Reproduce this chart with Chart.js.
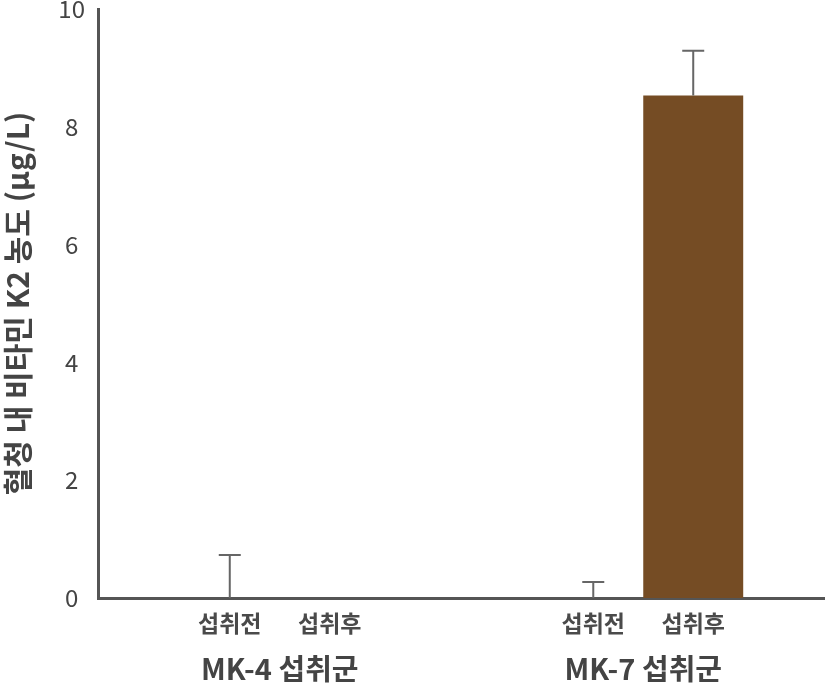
<!DOCTYPE html>
<html>
<head>
<meta charset="utf-8">
<script src="https://cdn.jsdelivr.net/npm/chart.js@4"></script>
<style>
  html, body { margin: 0; padding: 0; background: #fff; }
  #wrap { width: 825px; height: 690px; }
</style>
</head>
<body>
<div id="wrap"><canvas id="chart"></canvas></div>
<script>
// 데이터
const groups = ['MK-4 섭취군', 'MK-7 섭취군'];
const subLabels = ['섭취전', '섭취후'];
const beforeValues = [0, 0];
const afterValues = [0, 8.53];
const beforeErr = [0.73, 0.27];
const afterErr = [null, 0.76];
const yTicks = [0, 2, 4, 6, 8, 10];

const FONT = "'Noto Sans CJK KR', 'Noto Sans', sans-serif";

// 오차 막대 + 하위 라벨
const extrasPlugin = {
    id: 'extras',
    afterDatasetsDraw(chart) {
        const ctx = chart.ctx;
        const y = chart.scales.y;
        const errs = [beforeErr, afterErr];
        ctx.save();
        errs.forEach((errArr, di) => {
            const meta = chart.getDatasetMeta(di);
            meta.data.forEach((bar, i) => {
                const e = errArr[i];
                if (e == null) return;
                const v = chart.data.datasets[di].data[i];
                const yTop = y.getPixelForValue(v + e);
                const yBase = y.getPixelForValue(v);
                ctx.strokeStyle = '#666';
                ctx.lineWidth = 2;
                ctx.beginPath();
                ctx.moveTo(bar.x, yBase);
                ctx.lineTo(bar.x, yTop);
                ctx.moveTo(bar.x - 11, yTop);
                ctx.lineTo(bar.x + 11, yTop);
                ctx.stroke();
            });
        });
        // 섭취전 / 섭취후
        ctx.fillStyle = '#4a4a4a';
        ctx.font = 'bold 23px ' + FONT;
        ctx.textAlign = 'center';
        ctx.textBaseline = 'middle';
        [0, 1].forEach(di => {
            chart.getDatasetMeta(di).data.forEach(bar => {
                ctx.fillText(subLabels[di], bar.x, chart.chartArea.bottom + 25);
            });
        });
        ctx.restore();
    }
};

new Chart(document.getElementById('chart').getContext('2d'), {
    type: 'bar',
    data: {
        labels: groups,
        datasets: [
            {
                label: subLabels[0],
                data: beforeValues,
                backgroundColor: '#b0a090',
                categoryPercentage: 0.55,
                barPercentage: 1.0
            },
            {
                label: subLabels[1],
                data: afterValues,
                backgroundColor: '#754c24',
                categoryPercentage: 0.55,
                barPercentage: 1.0
            }
        ]
    },
    options: {
        responsive: true,
        maintainAspectRatio: false,
        animation: false,
        layout: { padding: { top: 9, right: 0, left: 0, bottom: 0 } },
        plugins: {
            legend: { display: false },
            tooltip: { enabled: false }
        },
        scales: {
            x: {
                grid: { display: false, drawTicks: false },
                border: { display: true, color: '#555', width: 3 },
                ticks: {
                    color: '#444',
                    font: { family: FONT, size: 29, weight: 'bold' },
                    padding: 54
                },
                afterFit(scale) { scale.height = 92; scale.paddingLeft = 0; scale.paddingRight = 0; }
            },
            y: {
                min: 0,
                max: 10,
                afterBuildTicks(scale) {
                    scale.ticks = yTicks.map(v => ({ value: v }));
                },
                grid: { display: false, drawTicks: false },
                border: { display: true, color: '#555', width: 3 },
                ticks: {
                    color: '#444',
                    font: { family: FONT, size: 24 },
                    crossAlign: 'center',
                    padding: 13
                },
                title: {
                    display: true,
                    text: '혈청 내 비타민 K2 농도 (μg/L)',
                    color: '#444',
                    font: { family: FONT, size: 30, weight: 'bold' },
                    padding: { top: 0, bottom: 0 }
                },
                afterFit(scale) { scale.width = 98; scale.paddingTop = 0; scale.paddingBottom = 0; }
            }
        }
    },
    plugins: [extrasPlugin]
});
</script>
</body>
</html>
